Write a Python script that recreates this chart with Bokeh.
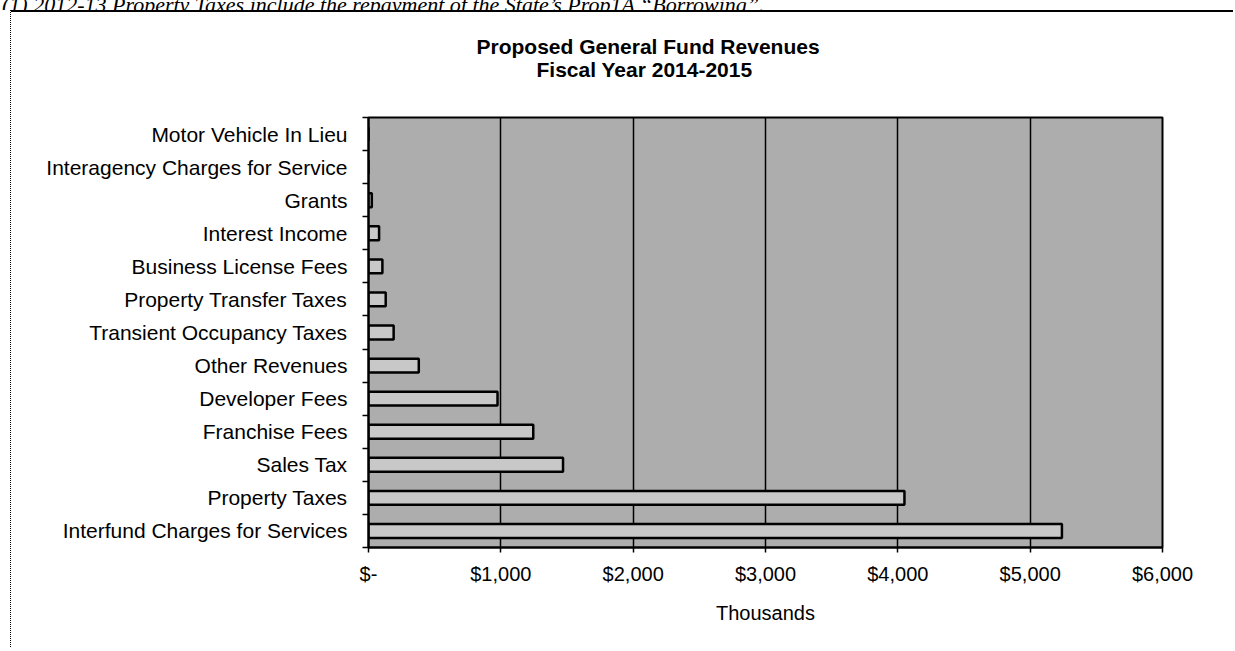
from bokeh.plotting import figure
from bokeh.models import (FixedTicker, ColumnDataSource, Range1d, Title, Div, Spacer)
from bokeh.layouts import column, row
from bokeh.embed import file_html
from bokeh.resources import INLINE

# ---- data (thousands of dollars), bottom to top ----
categories = [
    "Interfund Charges for Services",
    "Property Taxes",
    "Sales Tax",
    "Franchise Fees",
    "Developer Fees",
    "Other Revenues",
    "Transient Occupancy Taxes",
    "Property Transfer Taxes",
    "Business License Fees",
    "Interest Income",
    "Grants",
    "Interagency Charges for Service",
    "Motor Vehicle In Lieu",
]
revenues = [5240, 4050, 1470, 1245, 975, 380, 190, 130, 105, 80, 25, 0, 0]
x_ticks = [0, 1000, 2000, 3000, 4000, 5000, 6000]
x_tick_labels = ["$-", "$1,000", "$2,000", "$3,000", "$4,000", "$5,000", "$6,000"]
title_lines = ["Proposed General Fund Revenues", "Fiscal Year 2014-2015"]
x_label = "Thousands"
caption = "(1) 2012-13 Property Taxes include the repayment of the State\u2019s Prop1A \u201cBorrowing\u201d."

FONT = "Liberation Sans"

n = len(categories)
pos = [i + 0.5 for i in range(n)]
src = ColumnDataSource(dict(y=pos, right=revenues, name=categories))

p = figure(width=1223, height=637, output_backend="svg", toolbar_location=None,
           x_range=Range1d(0, 6000), y_range=Range1d(0, n),
           min_border_left=357, min_border_right=72, min_border_top=105, min_border_bottom=102)
p.styles = {"border-left": "1.5px dotted black", "border-top": "2px solid black"}
p.background_fill_color = "#adadad"
p.border_fill_color = "white"
p.outline_line_color = "black"
p.outline_line_width = 2

p.hbar(y="y", right="right", left=0, height=0.42, source=src,
       fill_color="#c8c8c8", line_color="black", line_width=2.5)

# title block (first added sits closest to the frame); first one is a blank gap
p.add_layout(Title(text=".", standoff=27, text_font=FONT, text_font_size="10px",
                   text_color="white"), "above")
p.add_layout(Title(text=title_lines[1], align="left", offset=168, standoff=0,
                   text_font=FONT, text_font_size="21px", text_font_style="bold",
                   text_color="black"), "above")
p.add_layout(Title(text=title_lines[0], align="left", offset=108, standoff=-4,
                   text_font=FONT, text_font_size="21px", text_font_style="bold",
                   text_color="black"), "above")

# x axis
xa = p.xaxis[0]
xa.ticker = FixedTicker(ticks=x_ticks)
xa.major_label_overrides = {t: l for t, l in zip(x_ticks, x_tick_labels)}
xa.major_label_text_font = FONT
xa.major_label_text_font_size = "20px"
xa.major_label_text_color = "black"
xa.major_tick_out = 5
xa.major_tick_in = 0
xa.minor_tick_line_color = None
xa.axis_line_color = "black"
xa.axis_line_width = 2
xa.major_tick_line_width = 1.5
xa.major_label_standoff = 10
xa.axis_label = x_label
xa.axis_label_text_font = FONT
xa.axis_label_text_font_size = "20px"
xa.axis_label_text_font_style = "normal"
xa.axis_label_text_color = "black"
xa.axis_label_standoff = 14

# y axis: labels at band centres, tick marks at band boundaries
ya = p.yaxis[0]
ya.ticker = FixedTicker(ticks=pos, minor_ticks=list(range(n + 1)))
ya.major_label_overrides = {v: c for v, c in zip(pos, categories)}
ya.major_label_text_font = FONT
ya.major_label_text_font_size = "21px"
ya.major_label_text_color = "black"
ya.major_tick_line_color = None
ya.major_tick_out = 0
ya.major_tick_in = 0
ya.minor_tick_line_color = "black"
ya.minor_tick_line_width = 1.5
ya.minor_tick_out = 6
ya.minor_tick_in = 0
ya.axis_line_color = "black"
ya.axis_line_width = 2
ya.major_label_standoff = 15

p.xgrid.ticker = FixedTicker(ticks=x_ticks)
p.xgrid.grid_line_color = "black"
p.xgrid.grid_line_width = 1.5
p.ygrid.grid_line_color = None

cap_html = ('<div style="font-family:\'Liberation Serif\'; font-style:italic; font-size:22px; '
            'line-height:22px; white-space:nowrap; margin:-13px 0 0 2px; color:black;">'
            + caption + '</div>')
cap = Div(text=cap_html, width=1235, height=10, margin=0, styles={"overflow": "hidden"})

layout = column(cap, row(Spacer(width=10, height=639, margin=0), p, spacing=0), spacing=0)

open("out.html", "w").write(file_html(layout, INLINE))
